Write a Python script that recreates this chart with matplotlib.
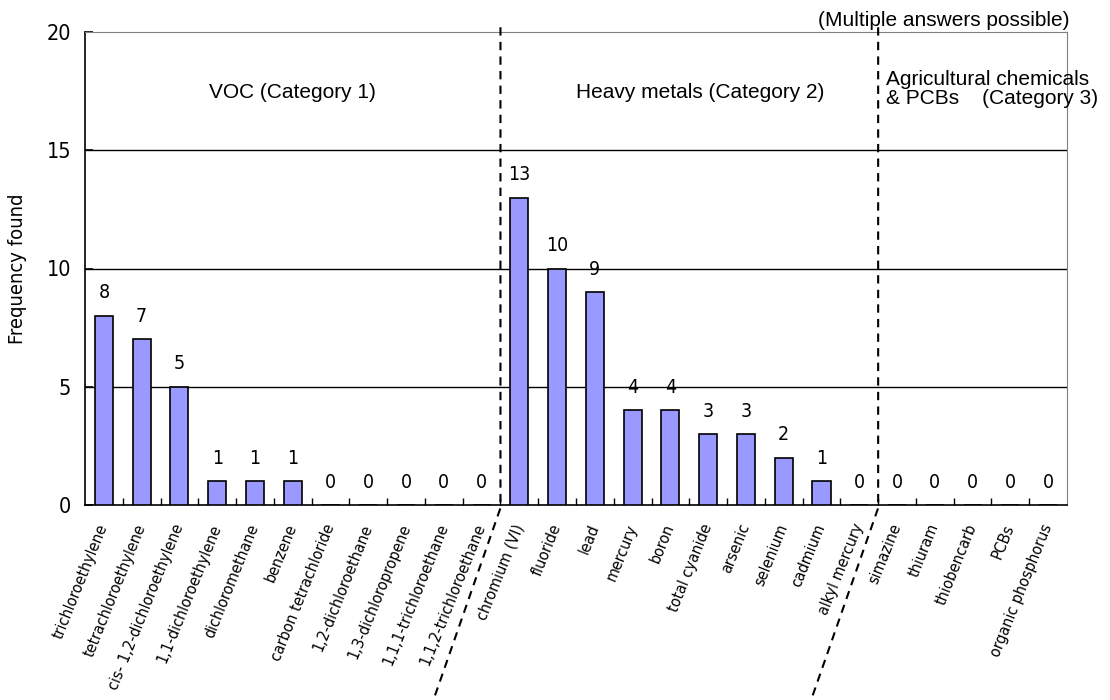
import matplotlib
matplotlib.use("Agg")
import matplotlib.pyplot as plt
from matplotlib.lines import Line2D
from matplotlib.transforms import IdentityTransform
import numpy as np

substances = [
    "trichloroethylene", "tetrachloroethylene", "cis- 1,2-dichloroethylene",
    "1,1-dichloroethylene", "dichloromethane", "benzene", "carbon tetrachloride",
    "1,2-dichloroethane", "1,3-dichloropropene", "1,1,1-trichloroethane",
    "1,1,2-trichloroethane",
    "chromium (VI)", "fluoride", "lead", "mercury", "boron", "total cyanide",
    "arsenic", "selenium", "cadmium", "alkyl mercury",
    "simazine", "thiuram", "thiobencarb", "PCBs", "organic phosphorus",
]
frequency = [8, 7, 5, 1, 1, 1, 0, 0, 0, 0, 0,
             13, 10, 9, 4, 4, 3, 3, 2, 1, 0,
             0, 0, 0, 0, 0]
# number of substances in each category (VOC, heavy metals, agri/PCBs)
group_sizes = [11, 10, 5]
y_ticks = [0, 5, 10, 15, 20]

NARROW = dict(family=["DejaVu Sans"], fontstretch="condensed")
SANS = ["Liberation Sans", "DejaVu Sans"]

fig = plt.figure(figsize=(11.1, 7.0), dpi=100)
ax = fig.add_axes([85 / 1110, 1 - 505 / 700, (1067 - 85) / 1110, (505 - 32) / 700])

x = np.arange(len(substances))
ax.bar(x, frequency, width=0.48, color="#9999FF", edgecolor="black",
       linewidth=1.2, zorder=3)

for xi, v in zip(x, frequency):
    ax.annotate(str(v), (xi, v), xytext=(0, 16.5), textcoords="offset points",
                ha="center", va="center", fontsize=14, **NARROW)

ax.set_xlim(-0.5, len(substances) - 0.5)
ax.set_ylim(0, 20)
ax.set_yticks(y_ticks)
ax.set_yticklabels([str(t) for t in y_ticks], fontsize=15.5, **NARROW)
ax.tick_params(axis="y", direction="in", length=6, width=1.2, pad=10)

ax.set_xticks(x)
ax.set_xticklabels(substances, rotation=68, ha="right", va="center",
                   rotation_mode="anchor", fontsize=11.5, **NARROW)
ax.tick_params(axis="x", which="major", length=0, pad=14)
ax.set_xticks(np.arange(0.5, len(substances) - 0.5, 1.0), minor=True)
ax.tick_params(axis="x", which="minor", direction="in", length=5, width=1.0)

for gy in y_ticks[1:-1]:
    ax.axhline(gy, color="black", linewidth=1.0, zorder=1)

ax.spines["left"].set_linewidth(1.2)
ax.spines["bottom"].set_linewidth(1.2)
ax.spines["top"].set_color("#808080")
ax.spines["right"].set_color("#808080")

ax.set_ylabel("Frequency found", fontsize=14.5, labelpad=14, **NARROW)

# dashed separators between categories, bent below the axis
bounds = np.cumsum(group_sizes)[:-1] - 0.5
for b in bounds:
    x_top, y_top = ax.transData.transform((b, 20.2))
    x_bot, y_bot = ax.transData.transform((b, 0))
    xs = [x_top, x_bot, x_bot - 66]
    ys = [y_top, y_bot - 3, y_bot - 192]
    fig.add_artist(Line2D(xs, ys, transform=IdentityTransform(), color="black",
                          linewidth=1.5, linestyle=(0, (4, 3)), zorder=5))

# category headings
ax.text(5.0, 17.46, "VOC (Category 1)", ha="center", va="center",
        family=SANS, fontsize=15)
ax.text(15.8, 17.46, "Heavy metals (Category 2)", ha="center", va="center",
        family=SANS, fontsize=15)
ax.text(20.7, 17.6, "Agricultural chemicals\n& PCBs    (Category 3)", ha="left",
        va="center", family=SANS, fontsize=15, linespacing=1.0)
ax.text(1.003, 1.005, "(Multiple answers possible)", transform=ax.transAxes,
        ha="right", va="bottom", family=SANS, fontsize=15)

fig.savefig("out.png", dpi=100)
